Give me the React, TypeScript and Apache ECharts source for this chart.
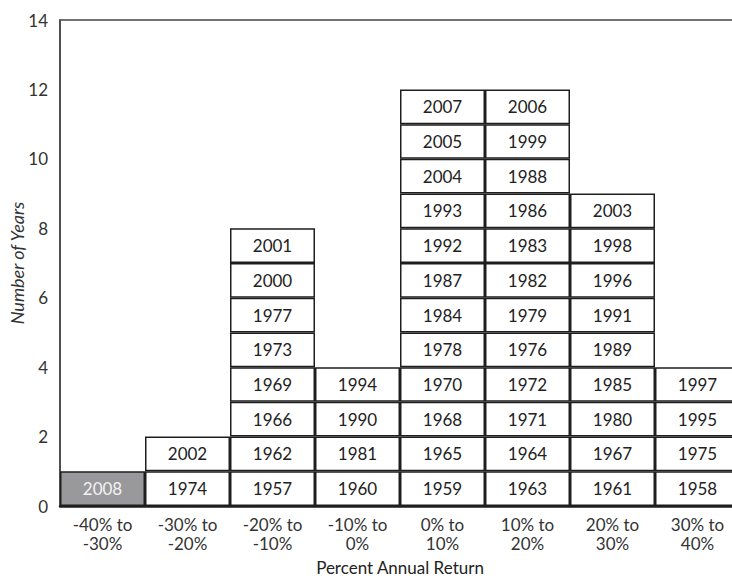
import React, { useEffect, useRef } from "react";
import * as echarts from "echarts";

const categories = [
  "-40% to\n-30%",
  "-30% to\n-20%",
  "-20% to\n-10%",
  "-10% to\n0%",
  "0% to\n10%",
  "10% to\n20%",
  "20% to\n30%",
  "30% to\n40%",
];

// years in each return bucket, listed bottom to top
const bucket0 = [2008];
const bucket1 = [1974, 2002];
const bucket2 = [1957, 1962, 1966, 1969, 1973, 1977, 2000, 2001];
const bucket3 = [1960, 1981, 1990, 1994];
const bucket4 = [1959, 1965, 1968, 1970, 1978, 1984, 1987, 1992, 1993, 2004, 2005, 2007];
const bucket5 = [1963, 1964, 1971, 1972, 1976, 1979, 1982, 1983, 1986, 1988, 1999, 2006];
const bucket6 = [1961, 1967, 1980, 1985, 1989, 1991, 1996, 1998, 2003];
const bucket7 = [1958, 1975, 1995, 1997];

const buckets = [bucket0, bucket1, bucket2, bucket3, bucket4, bucket5, bucket6, bucket7];
const highlightYear = 2008;

const FONT = "Lato, 'Open Sans', sans-serif";

export default function App() {
  const ref = useRef<HTMLDivElement>(null);
  useEffect(() => {
    document.body.style.margin = "0";
    document.body.style.overflow = "hidden";
    if (!ref.current) return;
    const chart = echarts.init(ref.current, undefined, { renderer: "svg" });
    const maxLevels = Math.max(...buckets.map((b) => b.length));
    const series: any[] = [];
    for (let lvl = 0; lvl < maxLevels; lvl++) {
      series.push({
        type: "bar",
        stack: "years",
        barWidth: "100%",
        barCategoryGap: "0%",
        data: buckets.map((b) => {
          const yr = b[lvl];
          if (yr === undefined) return "-";
          const hl = yr === highlightYear;
          return {
            value: 1,
            itemStyle: {
              color: hl ? "#99999b" : "#ffffff",
              borderColor: "#1e1e1e",
              borderWidth: 1.5,
            },
            label: {
              show: true,
              position: "inside",
              formatter: String(yr),
              color: hl ? "#f2f2f2" : "#222222",
              fontSize: 17,
              fontFamily: FONT,
            },
          };
        }),
      });
    }
    chart.setOption({
      animation: false,
      grid: {
        left: 60,
        right: 0,
        top: 20,
        bottom: 71,
        show: true,
        borderColor: "#444444",
        borderWidth: 1.5,
        backgroundColor: "transparent",
      },
      xAxis: {
        type: "category",
        data: categories,
        name: "Percent Annual Return",
        nameLocation: "middle",
        nameGap: 53,
        nameTextStyle: { color: "#222", fontSize: 17, fontFamily: FONT },
        axisLine: { show: true, lineStyle: { color: "#1e1e1e", width: 2.5 } },
        axisTick: { show: false },
        axisLabel: {
          color: "#333",
          fontSize: 17,
          fontFamily: FONT,
          lineHeight: 19,
          margin: 9,
          interval: 0,
        },
      },
      yAxis: {
        type: "value",
        min: 0,
        max: 14,
        interval: 2,
        axisLine: { show: true, lineStyle: { color: "#444444", width: 1.5 } },
        axisTick: { show: false },
        splitLine: { show: false },
        axisLabel: { color: "#333", fontSize: 17, fontFamily: FONT, margin: 12 },
      },
      graphic: [
        {
          type: "text",
          x: 17,
          y: 263,
          rotation: Math.PI / 2,
          style: {
            text: "Number of Years",
            fontSize: 18,
            fontStyle: "italic",
            fontFamily: FONT,
            fill: "#333",
            align: "center",
            verticalAlign: "middle",
          },
        },
      ],
      series,
    });
    return () => chart.dispose();
  }, []);
  return (
    <div style={{ width: 732, height: 581, overflow: "hidden" }}>
      <div ref={ref} style={{ width: 740, height: 581 }} />
    </div>
  );
}
